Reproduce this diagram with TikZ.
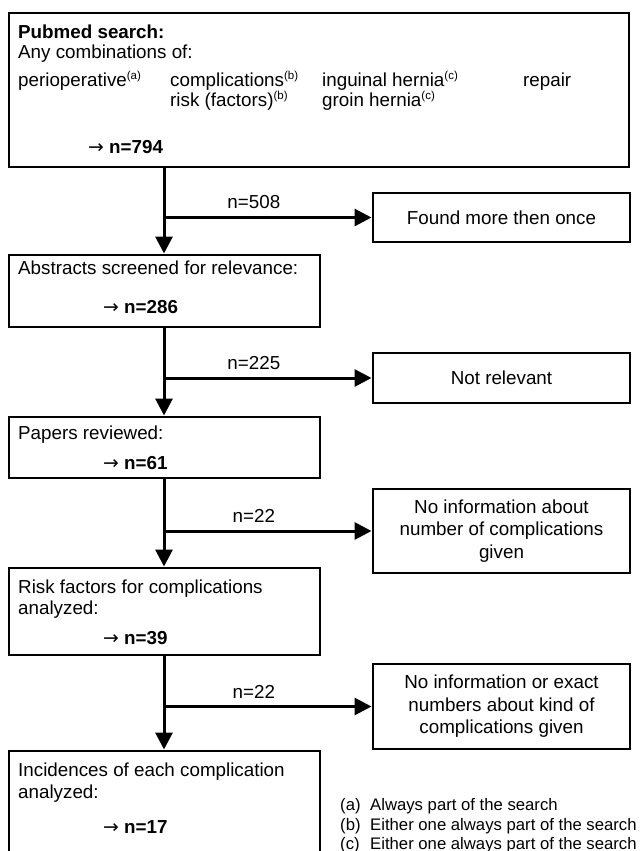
\documentclass[tikz,border=0pt]{standalone}
\usepackage{fontspec}
\setmainfont{Liberation Sans}
\newfontfamily\arrowfont{DejaVu Sans}
\usetikzlibrary{arrows.meta}
\newcommand{\fs}{\fontsize{18.8}{22.5}\selectfont}
\newcommand{\fn}{\fontsize{16.7}{20}\selectfont}
\newcommand{\sups}[1]{\raisebox{6pt}{\fontsize{11.5}{11.5}\selectfont #1}}
\newcommand{\arr}{{\arrowfont\mdseries →}}
\begin{document}
\begin{tikzpicture}[x=1pt,y=-1pt,
  box/.style={draw=black, line width=2pt, rectangle, inner sep=0pt, outer sep=0pt, anchor=north west},
  rbox/.style={box, minimum width=257pt, align=center, font=\fs},
  flow/.style={line width=3pt, -{Triangle[length=17pt,width=17pt]}, shorten >=1.5pt},
  txt/.style={anchor=base west, inner sep=0pt, font=\fs},
  ftxt/.style={anchor=base west, inner sep=0pt, font=\fn},
  lbl/.style={above=7pt, inner sep=0pt, font=\fs}]
\useasboundingbox (0,0) rectangle (640,851);
% left boxes
\node[box, minimum width=620pt, minimum height=154pt] (search) at (9,13) {};
\node[box, minimum width=311pt, minimum height=72pt] (abstracts) at (9,255) {};
\node[box, minimum width=311pt, minimum height=61pt] (papers) at (9,417) {};
\node[box, minimum width=311pt, minimum height=87pt] (risk) at (9,568) {};
\node[box, minimum width=311pt, minimum height=104pt] (incid) at (9,751) {};
% right boxes
\node[rbox, minimum height=49pt] (dup) at (373,193) {Found more then once};
\node[rbox, minimum height=50pt] (notrel) at (373,353) {Not relevant};
\node[rbox, minimum height=84pt] (noinfo) at (373,489) {No information about\\number of complications\\given};
\node[rbox, minimum height=85pt] (noexact) at (373,664) {No information or exact\\numbers about kind of\\complications given};
% texts of the search box
\node[txt, font=\fs\bfseries] (t1) at (18,39) {Pubmed search:};
\node[txt] (t2) at (18,59) {Any combinations of:};
\node[txt] (t3) at (18,86) {perioperative\sups{(a)}};
\node[txt] (t4) at (170,86) {complications\sups{(b)}};
\node[txt] (t5) at (322,86) {inguinal hernia\sups{(c)}};
\node[txt] (t6) at (523,86) {repair};
\node[txt] (t7) at (170,106) {risk (factors)\sups{(b)}};
\node[txt] (t8) at (322,106) {groin hernia\sups{(c)}};
\node[txt, font=\fs\bfseries] (t9) at (88,153) {\arr\ n=794};
% texts of the other left boxes
\node[txt] (a1) at (18,274) {Abstracts screened for relevance:};
\node[txt, font=\fs\bfseries] (a2) at (103,313) {\arr\ n=286};
\node[txt] (p1) at (18,439) {Papers reviewed:};
\node[txt, font=\fs\bfseries] (p2) at (103,469) {\arr\ n=61};
\node[txt] (r1) at (18,593) {Risk factors for complications};
\node[txt] (r2) at (18,614) {analyzed:};
\node[txt, font=\fs\bfseries] (r3) at (103,644) {\arr\ n=39};
\node[txt] (i1) at (18,776) {Incidences of each complication};
\node[txt] (i2) at (18,798) {analyzed:};
\node[txt, font=\fs\bfseries] (i3) at (103,833) {\arr\ n=17};
% footnotes
\node[ftxt] (fa) at (340,810) {(a)};
\node[ftxt] (fat) at (370,810) {Always part of the search};
\node[ftxt] (fb) at (340,830) {(b)};
\node[ftxt] (fbt) at (370,830) {Either one always part of the search};
\node[ftxt] (fc) at (340,849) {(c)};
\node[ftxt] (fct) at (370,849) {Either one always part of the search};
% connectors
\coordinate (trunk) at (164,0);
\draw[flow] (trunk |- search.south) -- (trunk |- abstracts.north);
\draw[flow] (trunk |- abstracts.south) -- (trunk |- papers.north);
\draw[flow] (trunk |- papers.south) -- (trunk |- risk.north);
\draw[flow] (trunk |- risk.south) -- (trunk |- incid.north);
\draw[flow] (trunk |- dup.west) -- (dup.west) node[lbl, pos=0.43] (l1) {n=508};
\draw[flow] (trunk |- notrel.west) -- (notrel.west) node[lbl, pos=0.43] (l2) {n=225};
\draw[flow] (trunk |- noinfo.west) -- (noinfo.west) node[lbl, pos=0.43] (l3) {n=22};
\draw[flow] (trunk |- noexact.west) -- (noexact.west) node[lbl, pos=0.43] (l4) {n=22};
\end{tikzpicture}
\end{document}
